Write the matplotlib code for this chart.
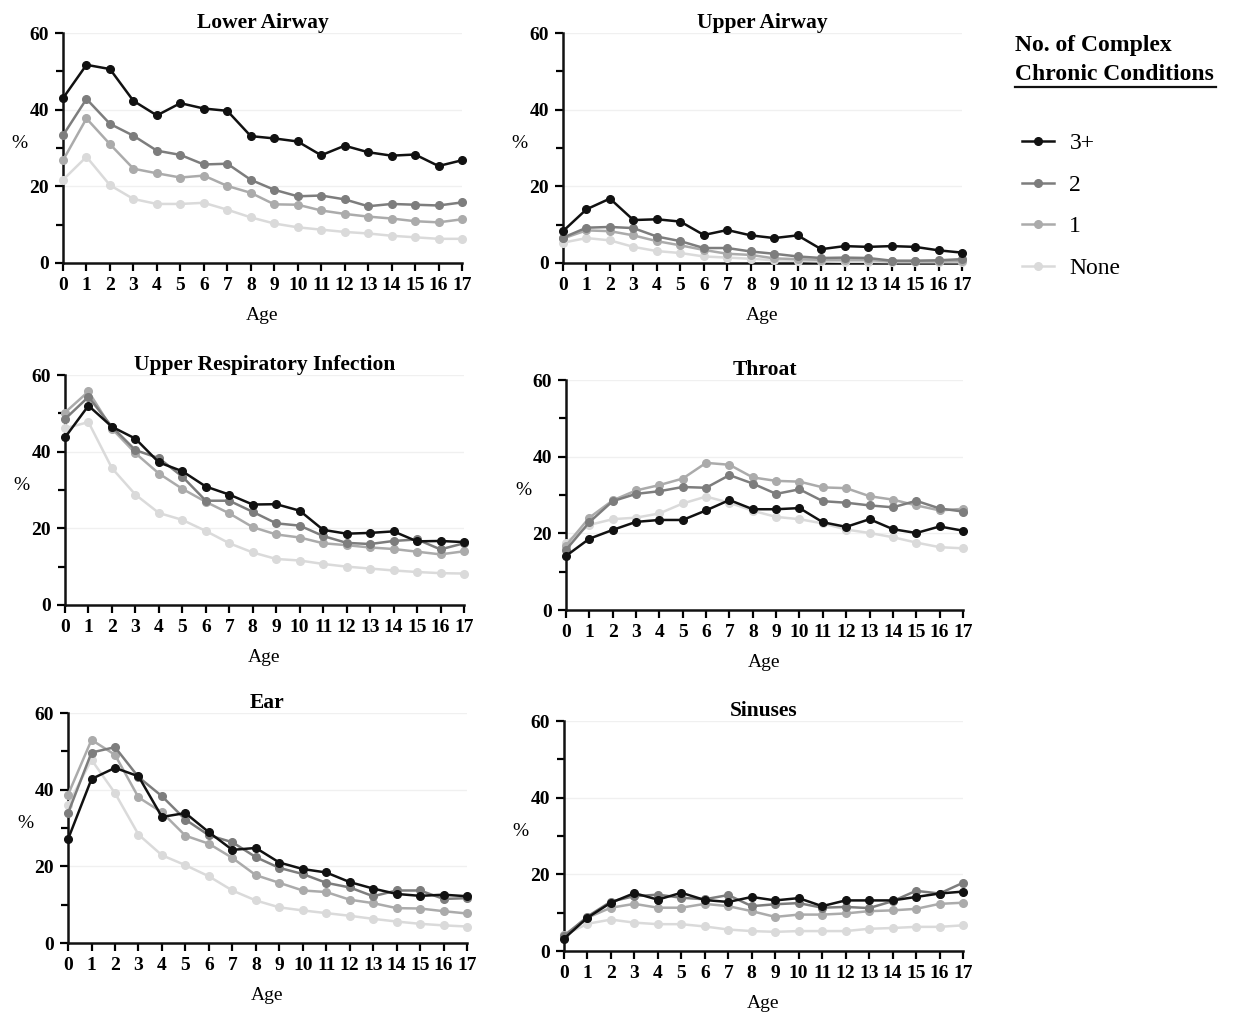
import matplotlib
matplotlib.use('Agg')
import matplotlib.pyplot as plt
from matplotlib.lines import Line2D
from matplotlib.ticker import MultipleLocator

plt.rcParams['font.family'] = ['Liberation Serif', 'DejaVu Serif']

ages = list(range(18))
groups = ['3+', '2', '1', 'None']
colors = {'3+': '#111111', '2': '#7d7d7d', '1': '#ababab', 'None': '#dadada'}

# percentages, one list per group
lower_airway = {
    '3+': [43.0, 51.7, 50.6, 42.3, 38.5, 41.7, 40.3, 39.7, 33.1, 32.5, 31.7, 28.1, 30.6, 28.9, 28.0, 28.3, 25.3, 26.8],
    '2': [33.3, 42.8, 36.3, 33.2, 29.3, 28.2, 25.7, 25.9, 21.7, 19.1, 17.4, 17.6, 16.6, 14.8, 15.4, 15.2, 15.0, 15.8],
    '1': [26.8, 37.7, 31.0, 24.6, 23.4, 22.3, 22.8, 20.1, 18.3, 15.3, 15.2, 13.7, 12.8, 12.1, 11.6, 10.9, 10.6, 11.4],
    'None': [21.7, 27.7, 20.3, 16.7, 15.4, 15.4, 15.7, 13.9, 11.9, 10.3, 9.3, 8.7, 8.1, 7.7, 7.1, 6.7, 6.3, 6.3],
}
upper_airway = {
    '3+': [8.3, 14.0, 16.8, 11.2, 11.4, 10.8, 7.3, 8.6, 7.2, 6.5, 7.2, 3.6, 4.4, 4.2, 4.4, 4.2, 3.3, 2.7],
    '2': [6.6, 9.2, 9.4, 9.1, 6.9, 5.7, 3.9, 3.9, 3.0, 2.4, 1.7, 1.3, 1.4, 1.3, 0.6, 0.6, 0.7, 1.0],
    '1': [6.4, 8.5, 8.3, 7.2, 5.7, 4.6, 3.4, 2.4, 2.1, 1.2, 1.0, 0.8, 0.8, 0.8, 0.4, 0.4, 0.4, 0.5],
    'None': [5.3, 6.5, 5.9, 4.2, 3.1, 2.6, 1.7, 1.4, 1.1, 0.7, 0.6, 0.4, 0.3, 0.3, 0.2, 0.2, 0.2, 0.2],
}
uri = {
    '3+': [43.7, 52.0, 46.5, 43.4, 37.2, 34.9, 30.9, 28.8, 26.2, 26.3, 24.6, 19.6, 18.6, 18.8, 19.2, 16.6, 16.7, 16.4],
    '2': [48.5, 54.3, 46.5, 40.4, 38.3, 33.5, 27.2, 27.2, 24.3, 21.3, 20.7, 18.0, 16.2, 15.9, 16.7, 17.1, 14.5, 16.1],
    '1': [50.2, 55.7, 46.0, 39.6, 34.3, 30.3, 26.9, 23.9, 20.3, 18.4, 17.6, 16.1, 15.6, 15.0, 14.6, 13.9, 13.2, 14.0],
    'None': [46.1, 47.7, 35.7, 28.8, 24.0, 22.2, 19.3, 16.1, 13.7, 12.0, 11.6, 10.7, 10.0, 9.5, 9.0, 8.6, 8.3, 8.2],
}
throat = {
    '3+': [14.1, 18.6, 20.9, 23.0, 23.5, 23.5, 26.0, 28.7, 26.3, 26.3, 26.6, 22.9, 21.7, 23.7, 21.1, 20.1, 21.8, 20.7],
    '2': [15.7, 22.9, 28.4, 30.3, 31.0, 32.1, 31.9, 35.2, 33.0, 30.3, 31.5, 28.4, 28.0, 27.3, 26.8, 28.5, 26.5, 25.7],
    '1': [16.8, 24.1, 28.6, 31.2, 32.6, 34.3, 38.4, 37.9, 34.6, 33.7, 33.5, 32.0, 31.8, 29.7, 28.8, 27.3, 26.0, 26.4],
    'None': [17.6, 22.2, 23.7, 24.1, 25.2, 27.8, 29.6, 28.0, 25.9, 24.3, 23.7, 22.6, 21.0, 20.1, 19.0, 17.6, 16.4, 16.1],
}
ear = {
    '3+': [27.1, 42.8, 45.7, 43.5, 32.9, 33.9, 28.9, 24.3, 24.8, 21.0, 19.3, 18.4, 15.9, 14.2, 12.8, 12.3, 12.6, 12.2],
    '2': [33.9, 49.7, 51.1, 43.3, 38.3, 32.2, 28.1, 26.3, 22.4, 19.6, 18.0, 15.7, 14.5, 12.2, 13.7, 13.7, 11.5, 11.7],
    '1': [38.7, 53.0, 49.1, 38.0, 34.1, 28.0, 25.9, 22.2, 17.7, 15.7, 13.7, 13.3, 11.3, 10.4, 9.1, 9.0, 8.3, 7.7],
    'None': [36.1, 47.8, 39.1, 28.3, 22.9, 20.3, 17.4, 13.7, 11.1, 9.3, 8.5, 7.8, 7.1, 6.3, 5.6, 5.0, 4.6, 4.3],
}
sinuses = {
    '3+': [3.2, 8.7, 12.6, 15.1, 13.4, 15.2, 13.3, 12.8, 14.1, 13.2, 13.8, 11.7, 13.2, 13.2, 13.2, 14.1, 15.0, 15.5],
    '2': [3.8, 9.0, 12.9, 14.3, 14.7, 13.9, 13.5, 14.6, 11.7, 12.2, 12.5, 11.3, 11.5, 11.2, 13.0, 15.7, 15.0, 17.8],
    '1': [4.1, 8.7, 11.3, 12.3, 11.3, 11.3, 12.3, 11.7, 10.4, 8.9, 9.5, 9.5, 9.8, 10.4, 10.6, 11.0, 12.3, 12.6],
    'None': [4.1, 7.1, 8.2, 7.4, 7.0, 7.0, 6.4, 5.6, 5.2, 5.0, 5.2, 5.2, 5.2, 5.8, 6.0, 6.3, 6.3, 6.7],
}

panels = [
    ('Lower Airway', lower_airway, [0.0511, 0.7404, 0.3236, 0.2270]),
    ('Upper Airway', upper_airway, [0.4566, 0.7404, 0.3236, 0.2270]),
    ('Upper Respiratory Infection', uri, [0.0527, 0.4028, 0.3236, 0.2270]),
    ('Throat', throat, [0.4590, 0.3978, 0.3220, 0.2270]),
    ('Ear', ear, [0.0552, 0.0691, 0.3236, 0.2270]),
    ('Sinuses', sinuses, [0.4574, 0.0612, 0.3236, 0.2270]),
]

fig = plt.figure(figsize=(12.33, 10.13), dpi=100)

for title, data, rect in panels:
    ax = fig.add_axes(rect)
    for y in (20, 40, 60):
        ax.axhline(y, color='#f0f0f0', lw=1, zorder=0)
    for g in reversed(groups):
        ax.plot(ages, data[g], color=colors[g], lw=1.8, marker='o', ms=5.5,
                clip_on=False, zorder=3)
    ax.set_xlim(0, 17)
    ax.set_ylim(0, 60)
    ax.set_xticks(ages)
    ax.set_yticks([0, 20, 40, 60])
    ax.yaxis.set_minor_locator(MultipleLocator(10))
    for s in ('top', 'right'):
        ax.spines[s].set_visible(False)
    for s in ('left', 'bottom'):
        ax.spines[s].set_linewidth(1.8)
        ax.spines[s].set_color('#111111')
    ax.tick_params(axis='both', which='major', length=6, width=1.6, labelsize=14, pad=4)
    ax.tick_params(axis='y', which='minor', length=5, width=1.6)
    for lab in ax.get_xticklabels() + ax.get_yticklabels():
        lab.set_fontweight('bold')
    ax.set_title(title, fontsize=15.5, fontweight='bold', pad=3)
    ax.set_ylabel('%', rotation=0, fontsize=14, va='center')
    ax.yaxis.set_label_coords(-0.108, 0.52)
    ax.set_xlabel('Age', fontsize=14)
    ax.xaxis.set_label_coords(0.5, -0.19)

# legend
handles = [Line2D([], [], color=colors[g], lw=1.8, marker='o', ms=5.5) for g in groups]
fig.legend(handles, groups, loc='upper left', bbox_to_anchor=(0.829, 0.869),
           frameon=False, fontsize=17, handlelength=1.35, handletextpad=0.65,
           labelspacing=0.85, borderpad=0, borderaxespad=0)
fig.text(0.823, 0.955, 'No. of Complex', fontsize=17, fontweight='bold', va='center')
fig.text(0.823, 0.926, 'Chronic Conditions', fontsize=17, fontweight='bold', va='center')
fig.add_artist(Line2D([0.823, 0.986], [0.914, 0.914], color='#111111', lw=1.6))

fig.savefig('out.png', dpi=100)
